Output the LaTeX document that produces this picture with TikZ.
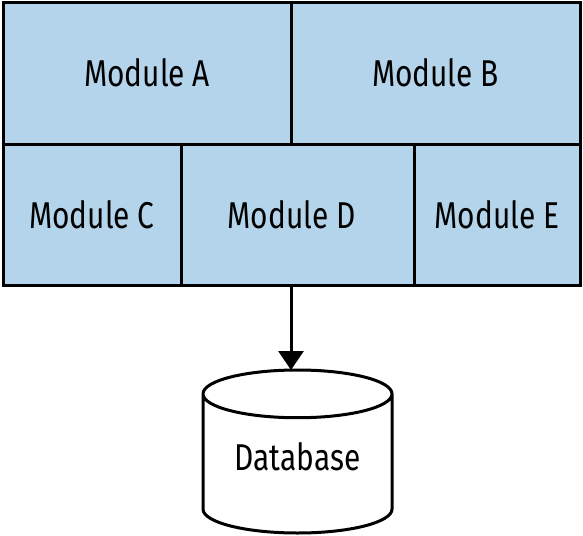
\documentclass[tikz,border=0pt]{standalone}
\usepackage{fontspec}
\setmainfont{Fira Sans}[FakeStretch=0.8]
\usetikzlibrary{shapes.geometric,arrows.meta}
\definecolor{modfill}{RGB}{179,212,234}
\begin{document}
\begin{tikzpicture}[x=0.75pt,y=-0.75pt]
\tikzstyle{module} = [draw=black, line width=2.25pt, fill=modfill, inner sep=0, outer sep=0, font=\fontsize{28}{33}\selectfont]
\tikzstyle{dbshape} = [shape=cylinder, shape border rotate=90, draw=black, line width=2.25pt, aspect=0.38, inner sep=0, outer sep=0, text depth=11pt, font=\fontsize{28}{33}\selectfont]
\tikzstyle{link} = [-{Triangle[length=14.25pt,width=18.75pt]}, line width=2.25pt]

\useasboundingbox (0,0) rectangle (583,536);

\node [module, minimum width=216pt, minimum height=106.5pt] (modA) at (147,73) {Module A};
\node [module, minimum width=216.75pt, minimum height=106.5pt] (modB) at (435.5,73) {Module B};
\node [module, minimum width=133.5pt, minimum height=105.75pt] (modC) at (92,214.5) {Module C};
\node [module, minimum width=174.75pt, minimum height=105.75pt] (modD) at (297.5,214.5) {Module D\hspace*{9pt}};
\node [module, minimum width=124.5pt, minimum height=105.75pt] (modE) at (497,214.5) {Module E};

\node [dbshape, minimum width=141.75pt, minimum height=122.25pt, anchor=shape center] (dbase) at (297.5,451.5) {Database};

\draw [link] (modB.south west |- modD.south) -- (modB.south west |- dbase.top);
\end{tikzpicture}
\end{document}
